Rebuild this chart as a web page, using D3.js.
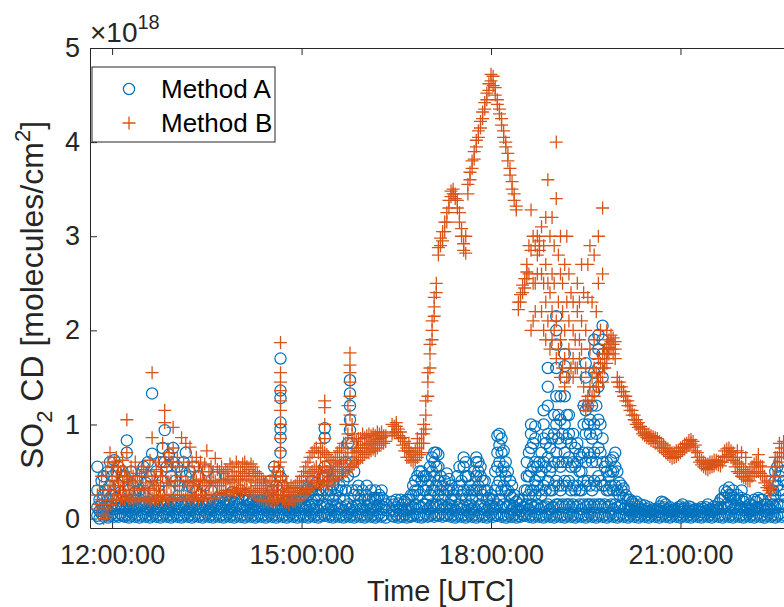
<!DOCTYPE html>
<html><head><meta charset="utf-8">
<script src="https://cdn.jsdelivr.net/npm/d3@7"></script>
<style>
body{margin:0;background:#fff;}
svg{display:block;}
text{font-family:"Liberation Sans", Arial, Helvetica, sans-serif;fill:#262626;}
</style>
</head><body><svg id="chart" width="784" height="607"></svg>
<script>
// Sampling times (UTC, HH:MM), one row per hour
const times = [
"11:46","11:48","11:50","11:52","11:54","11:56","11:58",
"12:00","12:02","12:04","12:06","12:08","12:10","12:12","12:14","12:16","12:18","12:20","12:22","12:24","12:26","12:28","12:30","12:32","12:34","12:36","12:38","12:40","12:42","12:44","12:46","12:48","12:50","12:52","12:54","12:56","12:58",
"13:00","13:02","13:04","13:06","13:08","13:10","13:12","13:14","13:16","13:18","13:20","13:22","13:24","13:26","13:28","13:30","13:32","13:34","13:36","13:38","13:40","13:42","13:44","13:46","13:48","13:50","13:52","13:54","13:56","13:58",
"14:00","14:02","14:04","14:06","14:08","14:10","14:12","14:14","14:16","14:18","14:20","14:22","14:24","14:26","14:28","14:30","14:32","14:34","14:36","14:38","14:40","14:42","14:44","14:46","14:48","14:50","14:52","14:54","14:56","14:58",
"15:00","15:02","15:04","15:06","15:08","15:10","15:12","15:14","15:16","15:18","15:20","15:22","15:24","15:26","15:28","15:30","15:32","15:34","15:36","15:38","15:40","15:42","15:44","15:46","15:48","15:50","15:52","15:54","15:56","15:58",
"16:00","16:02","16:04","16:06","16:08","16:10","16:12","16:14","16:16","16:18","16:20","16:22","16:24","16:26","16:28","16:30","16:32","16:34","16:36","16:38","16:40","16:42","16:44","16:46","16:48","16:50","16:52","16:54","16:56","16:58",
"17:00","17:02","17:04","17:06","17:08","17:10","17:12","17:14","17:16","17:18","17:20","17:22","17:24","17:26","17:28","17:30","17:32","17:34","17:36","17:38","17:40","17:42","17:44","17:46","17:48","17:50","17:52","17:54","17:56","17:58",
"18:00","18:02","18:04","18:06","18:08","18:10","18:12","18:14","18:16","18:18","18:20","18:22","18:24","18:26","18:28","18:30","18:32","18:34","18:36","18:38","18:40","18:42","18:44","18:46","18:48","18:50","18:52","18:54","18:56","18:58",
"19:00","19:02","19:04","19:06","19:08","19:10","19:12","19:14","19:16","19:18","19:20","19:22","19:24","19:26","19:28","19:30","19:32","19:34","19:36","19:38","19:40","19:42","19:44","19:46","19:48","19:50","19:52","19:54","19:56","19:58",
"20:00","20:02","20:04","20:06","20:08","20:10","20:12","20:14","20:16","20:18","20:20","20:22","20:24","20:26","20:28","20:30","20:32","20:34","20:36","20:38","20:40","20:42","20:44","20:46","20:48","20:50","20:52","20:54","20:56","20:58",
"21:00","21:02","21:04","21:06","21:08","21:10","21:12","21:14","21:16","21:18","21:20","21:22","21:24","21:26","21:28","21:30","21:32","21:34","21:36","21:38","21:40","21:42","21:44","21:46","21:48","21:50","21:52","21:54","21:56","21:58",
"22:00","22:02","22:04","22:06","22:08","22:10","22:12","22:14","22:16","22:18","22:20","22:22","22:24","22:26","22:28","22:30","22:32","22:34","22:36","22:38"];

// Method A SO2 CD (x 1e18 molecules/cm2): values retrieved at each sampling time
const methodA = [
[0.03,0.12,0.3,0.55],[0.0,0.08,0.2],[0.05,0.15,0.4],[0.02,0.1,0.25,0.45],[0.04,0.13,0.3],[0.01,0.09,0.2,0.5],[0.03,0.12,0.35,0.6],
[0.05,0.15,0.25,0.45],[0.02,0.1,0.3,0.62],[0.04,0.14,0.22,0.5],[0.02,0.11,0.35,0.55],[0.05,0.15,0.28],[0.03,0.12,0.4,0.5],[0.02,0.1,0.18,0.45],[0.04,0.13,0.7,0.83],[0.01,0.08,0.16,0.3],[0.03,0.12,0.2,0.5],[0.05,0.14,0.35],[0.02,0.1,0.19,0.28],[0.04,0.12,0.4],[0.01,0.09,0.17,0.3],[0.03,0.13,0.5],[0.05,0.15,0.25,0.55],[0.02,0.1,0.18,0.38],[0.04,0.12,0.6],[0.01,0.09,0.17,0.45],[0.03,0.13,0.69,1.33],[0.05,0.15,0.3],[0.02,0.1,0.19,0.5],[0.04,0.12,0.35],[0.01,0.09,0.17,0.6],[0.03,0.13,0.4,0.75],[0.05,0.15,0.6,0.94],[0.02,0.1,0.19,0.55],[0.04,0.12,0.3,0.68],[0.01,0.09,0.17,0.45],[0.03,0.13,0.6,0.75],
[0.05,0.15,0.4],[0.02,0.1,0.19,0.55],[0.04,0.12,0.35],[0.01,0.09,0.17,0.5],[0.03,0.13,0.6],[0.05,0.15,0.45,0.7],[0.02,0.1,0.19,0.35],[0.04,0.12,0.5],[0.01,0.09,0.17,0.33],[0.03,0.13,0.55],[0.05,0.15,0.3],[0.02,0.1,0.19,0.45],[0.04,0.12,0.25],[0.01,0.09,0.17],[0.03,0.13,0.35],[0.05,0.15,0.51],[0.02,0.1,0.19],[0.04,0.12,0.3],[0.01,0.09,0.17],[0.03,0.13,0.44],[0.05,0.15,0.22],[0.02,0.1,0.19],[0.04,0.12,0.22],[0.01,0.09,0.17],[0.03,0.13,0.2],[0.05,0.15,0.25],[0.02,0.1,0.19],[0.04,0.12,0.28],[0.01,0.09,0.17],[0.03,0.13,0.27],
[0.05,0.15,0.22],[0.02,0.1,0.3],[0.04,0.12,0.2],[0.01,0.09,0.25],[0.03,0.13,0.19],[0.05,0.15,0.2],[0.02,0.1,0.17],[0.04,0.12,0.2],[0.01,0.09,0.15],[0.03,0.12,0.18],[0.05,0.13,0.19],[0.02,0.1,0.2],[0.04,0.12,0.16],[0.01,0.09,0.18],[0.03,0.12,0.22],[0.05,0.13,0.4],[0.02,0.1,0.2,0.3],[0.04,0.12,0.55],[0.01,0.09,0.2,0.35],[0.03,0.12,0.3,0.5],[0.05,0.15,0.44,0.7,0.86,0.95,1.02,1.28,1.36,1.7],[0.02,0.1,0.2,0.35],[0.04,0.12,0.18],[0.01,0.09,0.17],[0.03,0.12,0.2],[0.05,0.13,0.18],[0.02,0.1,0.16],[0.04,0.12,0.2],[0.01,0.09,0.17],[0.03,0.12,0.2],
[0.05,0.13,0.22],[0.02,0.1,0.25],[0.04,0.12,0.2,0.3],[0.01,0.09,0.25,0.33],[0.03,0.13,0.3],[0.05,0.15,0.3,0.4],[0.02,0.1,0.2,0.35],[0.04,0.12,0.25,0.38],[0.01,0.09,0.2,0.3],[0.03,0.13,0.25],[0.05,0.15,0.3,0.45],[0.03,0.12,0.45,0.55,0.86,0.96],[0.05,0.15,0.3,0.5],[0.02,0.1,0.25,0.4],[0.04,0.12,0.3],[0.01,0.09,0.2,0.35],[0.03,0.13,0.25],[0.05,0.15,0.3,0.5],[0.02,0.1,0.22,0.35],[0.04,0.12,0.3],[0.01,0.09,0.2,0.4],[0.03,0.13,0.3,0.6],[0.05,0.15,0.45,0.8],[0.02,0.1,0.94,1.05,1.2,1.33,1.47],[0.04,0.12,0.3,0.6,0.8],[0.01,0.09,0.25,0.5],[0.03,0.13,0.3],[0.05,0.15,0.25,0.35],[0.02,0.1,0.2],[0.04,0.12,0.3],
[0.01,0.09,0.2],[0.03,0.13,0.25,0.35],[0.05,0.15,0.2],[0.02,0.1,0.3],[0.04,0.12,0.22],[0.01,0.09,0.2,0.3],[0.03,0.13,0.22],[0.05,0.15,0.25],[0.02,0.1,0.22,0.3],[0.04,0.12,0.2],[0.01,0.09,0.15],[],[],[0.03,0.1,0.18],[0.02,0.08,0.15],[0.04,0.12,0.2],[0.01,0.09,0.16],[0.03,0.11,0.2],[0.02,0.08,0.15],[0.04,0.1,0.18],[0.01,0.09,0.2],[0.03,0.1,0.2],[0.02,0.12,0.25],[0.03,0.12,0.25,0.35],[0.05,0.15,0.3,0.4],[0.02,0.1,0.3,0.45],[0.04,0.12,0.25,0.5],[0.01,0.12,0.4,0.5],[0.03,0.15,0.3,0.45],[0.05,0.15,0.3,0.45],
[0.02,0.1,0.2,0.35],[0.03,0.12,0.25,0.4,0.55],[0.05,0.15,0.3,0.5,0.65],[0.02,0.12,0.3,0.45,0.6,0.7],[0.04,0.15,0.35,0.55,0.7],[0.03,0.12,0.25,0.4,0.55,0.68],[0.05,0.15,0.3,0.45],[0.02,0.1,0.2,0.35],[0.04,0.12,0.25,0.4],[0.03,0.12,0.3,0.48],[0.05,0.15,0.3,0.42],[0.02,0.1,0.2,0.35],[0.04,0.12,0.25,0.3],[0.01,0.09,0.2],[0.03,0.12,0.3,0.45],[0.05,0.15,0.35,0.55],[0.02,0.1,0.25,0.4],[0.04,0.12,0.3,0.55,0.65],[0.01,0.09,0.2,0.45,0.6],[0.03,0.13,0.3,0.45],[0.05,0.15,0.25,0.35],[0.02,0.1,0.2,0.3],[0.04,0.12,0.3,0.5],[0.01,0.09,0.3,0.45,0.6,0.65],[0.03,0.13,0.35,0.5,0.6],[0.05,0.15,0.3,0.45,0.55],[0.02,0.1,0.25,0.4],[0.04,0.12,0.3,0.4],[0.01,0.09,0.2,0.3],[0.03,0.13,0.22],
[0.05,0.15,0.25],[0.02,0.1,0.2],[0.04,0.12,0.3,0.5],[0.03,0.15,0.35,0.55,0.7,0.88],[0.05,0.2,0.4,0.6,0.78,0.9],[0.02,0.12,0.3,0.5,0.7,0.85],[0.04,0.15,0.35,0.55,0.72],[0.01,0.12,0.3,0.45,0.6],[0.03,0.13,0.3,0.5],[0.05,0.15,0.25,0.4],[0.02,0.1,0.22,0.35],[0.04,0.12,0.25],[0.01,0.09,0.18],[0.03,0.1,0.2],[0.02,0.08,0.15],[0.04,0.12,0.2],[0.03,0.12,0.3],[0.05,0.15,0.3,0.45,0.6],[0.02,0.1,0.25,0.45,0.7],[0.04,0.15,0.3,0.5,0.75,0.9,1.0],[0.01,0.12,0.3,0.55,0.8],[0.03,0.12,0.25,0.4,0.6,0.85,0.98],[0.05,0.15,0.35,0.55],[0.02,0.1,0.3,0.45,0.6],[0.04,0.12,0.25,0.5,0.7],[0.01,0.12,0.35,0.6,0.85,1.0,1.15],[0.03,0.13,0.3,0.55,0.8],[0.05,0.15,0.4,0.65,0.9,1.2,1.4,1.6],[0.02,0.1,0.3,0.5,0.75],[0.04,0.12,0.3,0.55,0.85],
[0.01,0.12,0.35,0.6,0.9,1.1],[0.03,0.15,0.4,0.7,1.0,1.3,1.6,1.85,2.0,2.15],[0.05,0.15,0.35,0.6,0.85,1.1],[0.02,0.12,0.3,0.55,0.8,1.05,1.3],[0.04,0.15,0.35,0.6,0.9],[0.01,0.12,0.4,0.7,1.0,1.3,1.5,1.62,1.75],[0.03,0.15,0.35,0.6,0.85,1.1],[0.05,0.15,0.4,0.65,0.9,1.1],[0.02,0.12,0.3,0.55,0.8],[0.04,0.15,0.35,0.6,0.9],[0.01,0.12,0.3,0.55,0.75],[0.03,0.13,0.35,0.6,0.8],[0.05,0.15,0.3,0.5,0.68],[0.02,0.1,0.3,0.5,0.65],[0.04,0.15,0.4,0.7,1.0,1.2],[0.01,0.12,0.35,0.6,0.9,1.15,1.5,1.65],[0.03,0.15,0.4,0.7,1.0,1.2],[0.05,0.15,0.35,0.65,0.9,1.05],[0.02,0.12,0.3,0.6,0.85,1.2],[0.04,0.15,0.4,0.7,1.0,1.35,1.55,1.75,1.9],[0.01,0.12,0.35,0.6,0.9,1.2],[0.03,0.15,0.45,0.75,1.05,1.4,1.6,1.8,1.95],[0.05,0.15,0.4,0.7,1.0],[0.02,0.12,0.35,0.6,0.85,1.5,1.75,1.9,2.05],[0.04,0.15,0.35,0.55],[0.01,0.12,0.3,0.5,0.6],[0.03,0.13,0.3,0.45],[0.05,0.15,0.35,0.5,0.62],[0.02,0.1,0.3,0.5,0.65],[0.04,0.15,0.35,0.55,0.7],
[0.01,0.12,0.3,0.5],[0.03,0.12,0.25,0.38],[0.05,0.15,0.3,0.35],[0.02,0.1,0.22,0.32],[0.04,0.12,0.25],[0.01,0.09,0.2],[0.03,0.1,0.2],[0.05,0.12,0.18],[0.02,0.08,0.15],[0.04,0.1,0.18],[0.01,0.07,0.13],[0.03,0.1,0.15],[0.05,0.09],[0.02,0.08,0.14],[0.04,0.1],[0.01,0.07,0.12],[0.03,0.09],[0.05,0.1],[0.02,0.08],[0.04,0.1],[0.01,0.07,0.13],[0.03,0.1,0.18],[0.05,0.12,0.17],[0.02,0.09,0.15],[0.04,0.1],[0.01,0.07,0.12],[0.03,0.09],[0.05,0.1],[0.02,0.08],[0.04,0.1,0.12],
[0.01,0.07,0.13],[0.03,0.1,0.15],[0.05,0.11],[0.02,0.08],[0.04,0.1,0.13],[0.01,0.07,0.12],[0.03,0.09],[0.05,0.1],[0.02,0.08],[0.04,0.1],[0.01,0.07,0.12],[0.03,0.1],[0.05,0.12],[0.02,0.09,0.15],[0.04,0.1],[0.01,0.07,0.1],[0.03,0.09,0.13],[0.05,0.12],[0.02,0.1,0.16],[0.04,0.12,0.2],[0.01,0.1,0.22],[0.03,0.12,0.22,0.3],[0.05,0.15,0.28],[0.02,0.12,0.25,0.33],[0.04,0.15,0.25],[0.01,0.1,0.22,0.3],[0.03,0.12,0.2],[0.05,0.15,0.25],[0.02,0.1,0.2],[0.04,0.12,0.22,0.3],
[0.01,0.09,0.18],[0.03,0.12,0.2],[0.05,0.1],[0.02,0.08,0.15],[0.04,0.1,0.14],[0.01,0.09,0.2],[0.03,0.12,0.18],[0.05,0.12,0.22],[0.02,0.1,0.2],[0.04,0.12,0.2],[0.01,0.08,0.15],[0.03,0.1,0.15],[0.05,0.12],[0.02,0.1,0.2],[0.04,0.15,0.3],[0.01,0.12,0.25,0.4,0.5],[0.03,0.15,0.35,0.55],[0.05,0.15,0.3,0.45,0.6],[0.02,0.12,0.3,0.5],[0.04,0.15,0.25,0.4]
];

// Method B SO2 CD (x 1e18 molecules/cm2): values retrieved at each sampling time
const methodB = [
[0.1,0.25],[0.15,0.35],[0.05,0.2,0.45],[0.0,0.12,0.3],[0.03,0.2,0.5],[0.1,0.3,0.6],[0.15,0.35,0.7],
[0.2,0.4,0.55],[0.25,0.35,0.6],[0.2,0.45,0.65],[0.25,0.4,0.55],[0.2,0.3,0.5],[0.22,0.38,0.62],[0.2,0.35,0.5],[0.25,0.45,0.7,1.05],[0.2,0.3,0.42],[0.22,0.38,0.55],[0.18,0.3,0.45],[0.22,0.4,0.6],[0.2,0.32,0.48],[0.18,0.3,0.45],[0.22,0.35,0.52],[0.2,0.3,0.55],[0.22,0.38,0.45],[0.2,0.3,0.5],[0.18,0.32,0.62],[0.22,0.4,0.86,1.55],[0.2,0.3,0.45],[0.22,0.35,0.52],[0.2,0.3,0.6],[0.24,0.38,0.5],[0.2,0.45,0.8],[0.25,0.65,1.02,1.15],[0.22,0.35,0.55],[0.2,0.38,0.7],[0.25,0.4,0.6],[0.22,0.6,0.75,0.97],
[0.2,0.35,0.5],[0.25,0.4,0.65],[0.22,0.35,0.55],[0.25,0.45,0.86],[0.2,0.35,0.6],[0.22,0.4,0.8],[0.25,0.38,0.55],[0.2,0.35,0.76],[0.24,0.4,0.6],[0.22,0.35,0.5],[0.25,0.4,0.65],[0.2,0.35,0.55],[0.25,0.42,0.6],[0.22,0.35,0.5],[0.25,0.4,0.58],[0.22,0.38,0.72],[0.25,0.35,0.5],[0.22,0.4,0.55],[0.25,0.38,0.5],[0.22,0.4,0.64],[0.25,0.35,0.52],[0.25,0.35,0.5],[0.28,0.42,0.55],[0.25,0.4,0.48],[0.3,0.38,0.52],[0.25,0.42,0.5],[0.28,0.4,0.58],[0.3,0.45,0.55],[0.28,0.38,0.5],[0.3,0.45,0.6],
[0.32,0.42,0.55],[0.28,0.4,0.5],[0.3,0.45,0.58],[0.32,0.48,0.6],[0.3,0.42,0.55],[0.28,0.45,0.52],[0.3,0.4,0.58],[0.28,0.45,0.55],[0.25,0.38,0.5],[0.22,0.35,0.48],[0.2,0.32,0.45],[0.2,0.3,0.42],[0.18,0.28,0.4],[0.2,0.3,0.38],[0.18,0.25,0.35],[0.2,0.28,0.4],[0.18,0.3,0.45],[0.2,0.35,0.55],[0.2,0.3,0.45],[0.22,0.35,0.55],[0.25,0.45,0.6,0.72,0.85,1.0,1.15,1.25,1.36,1.45,1.55,1.87],[0.2,0.3,0.45],[0.18,0.25,0.35],[0.18,0.28,0.38],[0.15,0.25,0.32],[0.2,0.28,0.35],[0.18,0.25,0.33],[0.18,0.25,0.35],[0.2,0.28,0.38],[0.2,0.3,0.4],
[0.22,0.32,0.45],[0.25,0.35,0.5],[0.28,0.4,0.55],[0.3,0.45,0.6],[0.32,0.48,0.65],[0.35,0.5,0.7],[0.38,0.52,0.72],[0.4,0.55,0.75],[0.38,0.5,0.7],[0.35,0.5,0.65,0.8],[0.4,0.55,0.72],[0.4,0.55,0.7,0.85,1.0,1.18,1.25],[0.38,0.5,0.68],[0.35,0.48,0.65],[0.4,0.52,0.62],[0.4,0.5,0.6],[0.42,0.52,0.65],[0.42,0.55,0.7],[0.45,0.58,0.72],[0.45,0.6,0.75],[0.48,0.62,0.8],[0.5,0.65,0.8,1.0],[0.52,0.7,0.9,1.2],[0.55,1.1,1.3,1.45,1.55,1.63,1.76],[0.55,0.7,0.9,1.0],[0.58,0.7,0.85],[0.6,0.72,0.82],[0.62,0.72,0.85],[0.65,0.75,0.85],[0.65,0.75,0.9],
[0.68,0.78,0.86],[0.7,0.78,0.88],[0.7,0.8,0.9],[0.72,0.8,0.88],[0.74,0.82,0.9],[0.72,0.8,0.88],[0.75,0.84,0.92],[0.78,0.85,0.9],[0.8,0.86,0.92],[0.8,0.88],[0.82,0.88],[],[],[0.9,1.0],[0.92,0.98],[0.92,0.98,1.02],[0.88,0.95],[0.85,0.92],[0.78,0.86],[0.72,0.82],[0.65,0.75],[0.65,0.72,0.8],[0.62,0.7],[0.6,0.68],[0.62,0.72],[0.65,0.75,0.85],[0.68,0.8],[0.7,0.8,0.9],[0.8,0.9,1.0],[0.95,1.1,1.25],
[1.3,1.45,1.55],[1.6,1.75,1.85],[1.9,2.0,2.1],[2.15,2.25,2.35],[2.4,2.5],[2.8,2.88],[2.9,2.98],[2.95,3.05],[3.05,3.15],[3.15,3.25],[3.3,3.38],[3.42,3.48],[3.45,3.5],[3.4,3.45],[3.3,3.38],[3.15,3.25],[3.0,3.08],[2.85,2.92],[2.82,3.0],[3.45,3.55],[3.6,3.68],[3.72,3.8],[3.82,3.9],[3.95,4.02],[4.05,4.12],[4.15,4.22],[4.25,4.32],[4.35,4.42],[4.45,4.52],[4.55,4.62],
[4.65,4.72],[4.6,4.7],[4.5,4.58],[4.4,4.45],[4.3,4.35],[4.18,4.25],[4.05,4.12],[3.95,4.0],[3.8,3.88],[3.65,3.72],[3.5,3.58],[3.38,3.45],[3.28,3.32],[2.22,2.3],[2.3,2.38],[2.4,2.48],[2.45,2.55],[2.55,2.62,2.7],[2.6,2.9],[2.0,2.85,3.28],[2.1,2.5,3.0],[2.2,2.5,2.9],[2.6,2.8,3.0],[2.85,2.9,2.95],[2.2,2.6,3.1],[2.0,2.5,2.9],[1.9,2.3,2.7,3.2],[2.1,2.5,3.6],[1.8,2.4,3.0],[1.9,2.2,2.6,3.2],
[2.0,2.5,2.9],[1.7,2.1,3.4,4.0],[1.8,2.3,2.8],[1.5,1.9,2.6,3.0],[1.6,2.2,2.5],[1.4,1.7,2.0,2.7],[1.5,2.3,3.0],[1.5,1.8,2.1,2.6],[1.6,2.4],[1.5,1.7,2.0,2.3],[1.6,1.9],[1.6,2.2,2.5],[1.7,1.9,2.3],[1.5,1.8,2.1,2.7],[1.2,1.4,2.4],[1.15,1.25,1.6,2.0],[1.2,1.3,2.35,2.7],[1.2,1.4,1.8,2.9],[1.3,1.5,2.3],[1.3,1.6,1.9,2.8],[1.4,1.55,2.2],[1.4,1.5,1.7,2.5,3.0],[1.5,1.65,2.0],[1.45,1.6,1.75,2.6,3.3],[1.6,1.7,1.8],[1.65,1.75,1.85,2.0],[1.75,1.82,1.9],[1.8,1.88,1.95],[1.75,1.85,1.92],[1.7,1.8,1.88],
[1.45,1.5],[1.4,1.45],[1.35,1.4],[1.3,1.35],[1.25,1.3],[1.2,1.25],[1.15,1.2],[1.1,1.15],[1.05,1.1],[1.0,1.05],[0.97,1.02],[0.95,0.98],[0.9,0.95],[0.88,0.92],[0.86,0.9],[0.85,0.9],[0.83,0.88],[0.82,0.87],[0.8,0.86],[0.8,0.85],[0.76,0.82],[0.75,0.8],[0.72,0.78],[0.7,0.75],[0.68,0.74],[0.66,0.72],[0.64,0.7],[0.65,0.7],[0.66,0.72],[0.68,0.72],
[0.7,0.75],[0.72,0.76],[0.74,0.79],[0.76,0.8],[0.78,0.83],[0.8,0.84],[0.76,0.82],[0.72,0.78],[0.65,0.7],[0.6,0.65],[0.57,0.62],[0.55,0.6],[0.53,0.58],[0.52,0.58],[0.54,0.6],[0.55,0.6],[0.56,0.62],[0.58,0.62],[0.57,0.61],[0.56,0.6],[0.6,0.66],[0.65,0.72],[0.66,0.74],[0.68,0.75],[0.65,0.72],[0.62,0.7],[0.55,0.65],[0.5,0.6,0.72],[0.48,0.58],[0.45,0.55,0.7],
[0.44,0.52],[0.42,0.5,0.65],[0.4,0.48],[0.4,0.5],[0.45,0.55],[0.48,0.58],[0.5,0.6],[0.5,0.6,0.68],[0.48,0.56],[0.45,0.55],[0.38,0.45],[0.33,0.4],[0.3,0.35],[0.27,0.32],[0.35,0.45],[0.45,0.55,0.65],[0.55,0.65],[0.6,0.7,0.8],[0.65,0.75],[0.7,0.82]
];

const seriesNames = ["Method A","Method B"];
const seriesColors = ["#0072BD","#D95319"];
const yTickValues = [0,1,2,3,4,5];
const xTickLabels = ["12:00","15:00","18:00","21:00"];
const yExponent = "18";

const svg = d3.select("#chart");
const plot = {left:90, right:791, top:48, bottom:528};
const parse = d3.utcParse("%H:%M");
const x = d3.scaleUtc().domain([parse("11:39"), parse("22:45")]).range([plot.left, plot.right]);
const y = d3.scaleLinear().domain([-0.1, 5]).range([plot.bottom, plot.top]);
const axisColor = "#262626";
const tickLen = 7;
const circleR = 5.6, plusHalf = 6.5;
const plusPath = `M${-plusHalf},0H${plusHalf}M0,${-plusHalf}V${plusHalf}`;

// axes box
const gAx = svg.append("g");
const xTicks = xTickLabels.map(parse);
gAx.append("g").attr("transform",`translate(0,${plot.bottom})`)
  .call(d3.axisBottom(x).tickValues(xTicks).tickFormat(d3.utcFormat("%H:%M:%S")).tickSizeInner(-tickLen).tickSizeOuter(0).tickPadding(17));
gAx.append("g").attr("transform",`translate(0,${plot.top})`)
  .call(d3.axisTop(x).tickValues(xTicks).tickFormat("").tickSizeInner(-tickLen).tickSizeOuter(0));
gAx.append("g").attr("transform",`translate(${plot.left},0)`)
  .call(d3.axisLeft(y).tickValues(yTickValues).tickFormat(d3.format("d")).tickSizeInner(-tickLen).tickSizeOuter(0).tickPadding(10));
gAx.append("g").attr("transform",`translate(${plot.right},0)`)
  .call(d3.axisRight(y).tickValues(yTickValues).tickFormat("").tickSizeInner(-tickLen).tickSizeOuter(0));
gAx.selectAll(".domain").attr("stroke",axisColor).attr("stroke-width",1);
gAx.selectAll(".tick line").attr("stroke",axisColor).attr("stroke-width",1);
gAx.selectAll(".tick text").attr("fill",axisColor).style("font-family",'"Liberation Sans", Arial, sans-serif').style("font-size","27px");

// points
const ptsA = [], ptsB = [];
times.forEach((t,i)=>{
  const d = parse(t);
  (methodA[i]||[]).forEach(v=>ptsA.push([d,v]));
  (methodB[i]||[]).forEach(v=>ptsB.push([d,v]));
});
svg.append("g").selectAll("circle").data(ptsA).join("circle")
  .attr("cx",d=>x(d[0])).attr("cy",d=>y(d[1])).attr("r",circleR)
  .attr("fill","none").attr("stroke",seriesColors[0]).attr("stroke-width",1.25);
svg.append("g").selectAll("path").data(ptsB).join("path")
  .attr("transform",d=>`translate(${x(d[0])},${y(d[1])})`)
  .attr("d",plusPath)
  .attr("fill","none").attr("stroke",seriesColors[1]).attr("stroke-width",1.3);

// exponent label
const ex = svg.append("text").attr("x",90).attr("y",42).style("font-size","28px");
ex.append("tspan").text("\u00D710");
ex.append("tspan").attr("dy",-13).style("font-size","20px").text(yExponent);

// axis labels
svg.append("text").attr("x",(plot.left+plot.right)/2).attr("y",601).attr("text-anchor","middle")
  .style("font-size","29px").text("Time [UTC]");
const yl = svg.append("text").attr("transform",`translate(43,295) rotate(-90)`)
  .attr("text-anchor","middle").style("font-size","32px");
yl.append("tspan").text("SO");
yl.append("tspan").attr("dy",9).style("font-size","22px").text("2");
yl.append("tspan").attr("dy",-9).text(" CD [molecules/cm");
yl.append("tspan").attr("dy",-13).style("font-size","22px").text("2");
yl.append("tspan").attr("dy",13).text("]");

// legend
const lg = svg.append("g");
lg.append("rect").attr("x",92).attr("y",67).attr("width",183).attr("height",75)
  .attr("fill","#fff").attr("stroke",axisColor).attr("stroke-width",1);
lg.append("circle").attr("cx",129).attr("cy",89).attr("r",circleR).attr("fill","none")
  .attr("stroke",seriesColors[0]).attr("stroke-width",1.25);
lg.append("path").attr("transform","translate(129,123)").attr("d",plusPath)
  .attr("fill","none").attr("stroke",seriesColors[1]).attr("stroke-width",1.3);
seriesNames.forEach((n,i)=>{
  lg.append("text").attr("x",161).attr("y",98+34*i).style("font-size","26px").style("fill","#000").text(n);
});
</script>
</body></html>
